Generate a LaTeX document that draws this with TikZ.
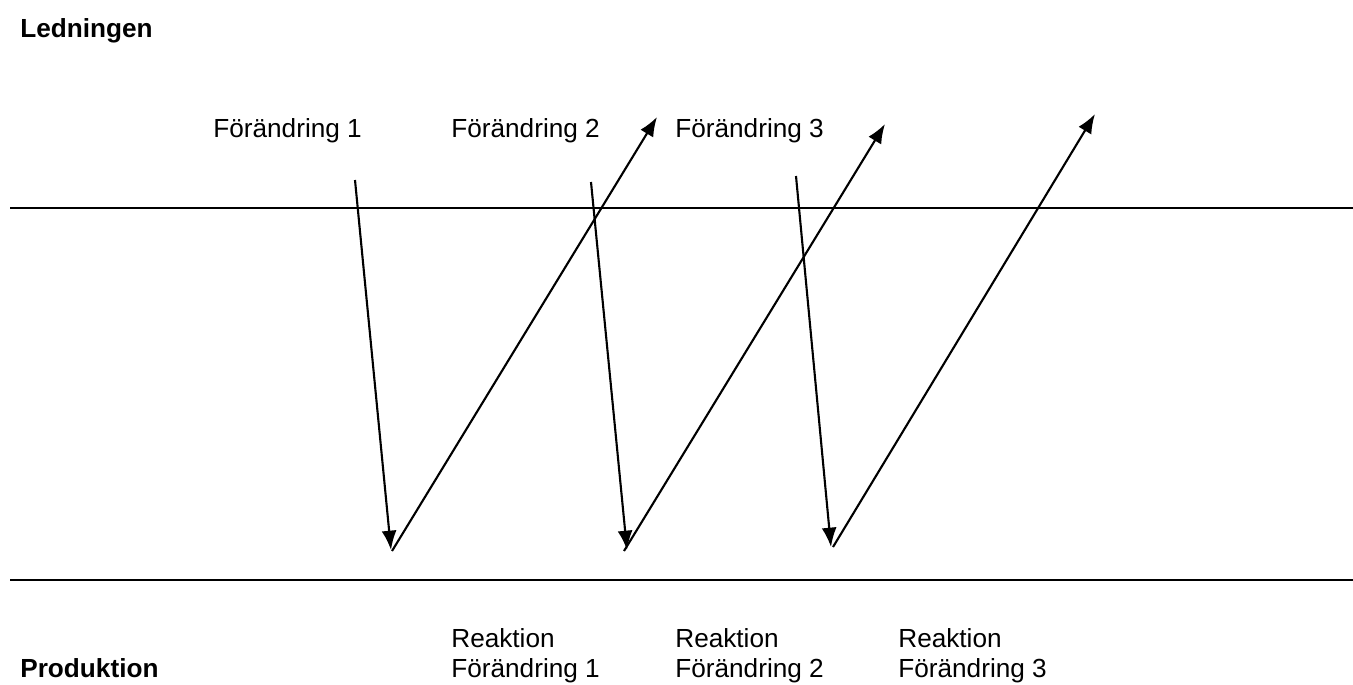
\documentclass[tikz,border=0pt]{standalone}
\usepackage{fontspec}
\setmainfont{Liberation Sans}
\usetikzlibrary{arrows.meta}

\tikzset{
  lbl/.style={anchor=base west, inner sep=0pt, font=\fontsize{14.9}{18}\selectfont},
  head/.style={anchor=base west, inner sep=0pt, font=\fontsize{14.9}{18}\selectfont\bfseries},
  pil/.style={line width=1.2pt, -{Latex[length=11pt,width=8.5pt]}}
}

\begin{document}
\begin{tikzpicture}[x=0.02cm, y=-0.02cm]
        \useasboundingbox (0,0) rectangle (1353,684);

        % rubriker
        \node[head] (ledn) at (20,37) {Ledningen};
        \node[head] (prod) at (20,677) {Produktion};

        % linjer
        \draw[line width=1.2pt] (10,208) -- (1353,208);
        \draw[line width=1.2pt] (10,580) -- (1353,580);

        % förändringar
        \node[lbl] (f1) at (213,137) {Förändring 1};
        \node[lbl] (f2) at (451,137) {Förändring 2};
        \node[lbl] (f3) at (675,137) {Förändring 3};

        % reaktioner
        \node[lbl] (r1) at (451,647) {Reaktion};
        \node[lbl] (rf1) at (451,677) {Förändring 1};
        \node[lbl] (r2) at (675,647) {Reaktion};
        \node[lbl] (rf2) at (675,677) {Förändring 2};
        \node[lbl] (r3) at (898,647) {Reaktion};
        \node[lbl] (rf3) at (898,677) {Förändring 3};

        % pilar ned
        \coordinate (a1) at (355,180);
        \coordinate (b1) at (391,550);
        \coordinate (a2) at (591,182);
        \coordinate (b2) at (627,550);
        \coordinate (a3) at (796,176);
        \coordinate (b3) at (831,547);
        \draw[pil] (a1) -- (b1);
        \draw[pil] (a2) -- (b2);
        \draw[pil] (a3) -- (b3);

        % pilar upp
        \coordinate (c1) at (392,551);
        \coordinate (d1) at (657,117);
        \coordinate (c2) at (624,551);
        \coordinate (d2) at (885,124);
        \coordinate (c3) at (833,547);
        \coordinate (d3) at (1095,114);
        \draw[pil] (c1) -- (d1);
        \draw[pil] (c2) -- (d2);
        \draw[pil] (c3) -- (d3);

      \end{tikzpicture}
\end{document}
